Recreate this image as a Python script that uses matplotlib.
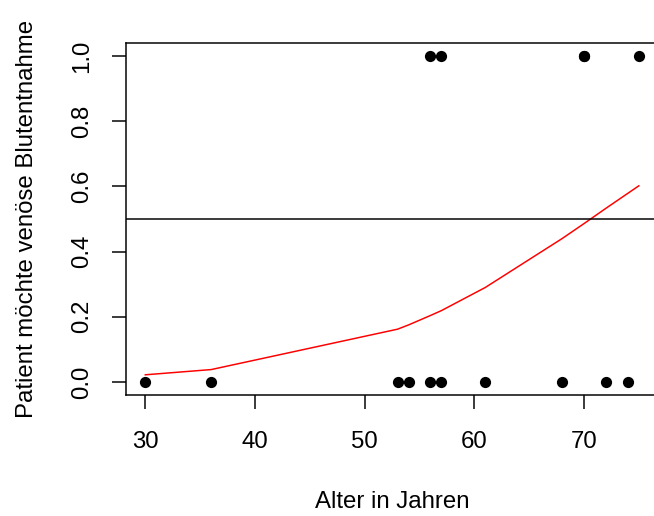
import matplotlib
matplotlib.use("Agg")
import matplotlib.pyplot as plt

plt.rcParams['font.family'] = ['Liberation Sans', 'DejaVu Sans']

# Alter und Wunsch nach venöser Blutentnahme (1 = ja)
alter = [30, 36, 53, 54, 56, 56, 57, 57, 61, 68, 70, 70, 72, 74, 75]
blutentnahme = [0, 0, 0, 0, 0, 1, 0, 1, 0, 0, 1, 1, 0, 0, 1]

# vorhergesagte Wahrscheinlichkeiten des logistischen Modells
alter_fit = [30, 36, 53, 54, 56, 57, 61, 68, 70, 72, 74, 75]
prob_fit = [0.022, 0.038, 0.162, 0.175, 0.204, 0.219, 0.290, 0.440, 0.486, 0.533, 0.579, 0.602]

fig = plt.figure(figsize=(654 / 144, 516 / 144), dpi=144)
ax = fig.add_axes([0.192, 0.2345, 0.815, 0.682])

ax.plot(alter, blutentnahme, 'o', color='black', markersize=5.6, markeredgewidth=0)
ax.plot(alter_fit, prob_fit, color='red', linewidth=0.75)
ax.axhline(0.5, color='black', linewidth=0.75)

ax.set_xlim(28.2, 76.8)
ax.set_ylim(-0.04, 1.04)
ax.set_xticks([30, 40, 50, 60, 70])
ax.set_yticks([0.0, 0.2, 0.4, 0.6, 0.8, 1.0])
ax.set_yticklabels(['0.0', '0.2', '0.4', '0.6', '0.8', '1.0'], rotation=90, va='center')

for s in ax.spines.values():
    s.set_linewidth(0.75)
ax.tick_params(length=7, width=0.75, labelsize=12)
ax.tick_params(axis='x', pad=11)
ax.tick_params(axis='y', pad=9)

ax.set_xlabel("Alter in Jahren", fontsize=12, labelpad=19)
ax.set_ylabel("Patient möchte venöse Blutentnahme", fontsize=12, labelpad=17)

fig.savefig("out.png", dpi=144)
